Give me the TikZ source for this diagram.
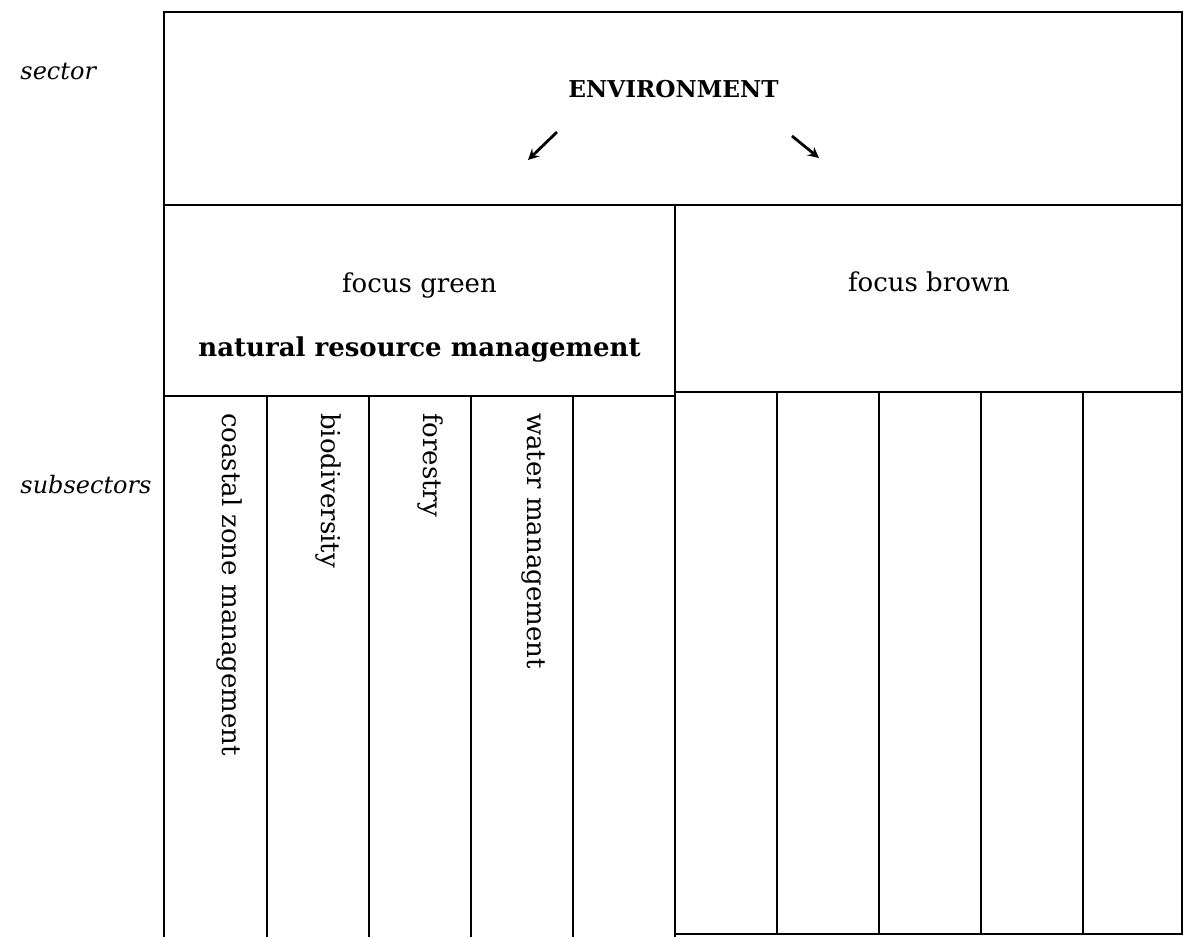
\documentclass[tikz,border=0pt]{standalone}
\usepackage{fontspec}
\setmainfont{DejaVu Serif}
\usepackage{tikz}
\usepackage{xcolor}

\begin{document}
\begin{tikzpicture}[font=\fontsize{13}{15}\selectfont]
        \useasboundingbox (0pt, 0pt) rectangle (592pt, -468.5pt);

        % Frame of the table
        \draw [line width = 1.2pt] (82pt, -468.5pt) -- (82pt, -6pt) -- (591pt, -6pt) -- (591pt, -467pt) -- (337.5pt, -467pt) -- (337.5pt, -468.5pt);
        \draw [line width = 1.2pt] (82pt, -102.5pt) -- (591pt, -102.5pt);
        \draw [line width = 1.2pt] (337.5pt, -102.5pt) -- (337.5pt, -467pt);
        \draw [line width = 1.2pt] (82pt, -198pt) -- (337.5pt, -198pt);
        \draw [line width = 1.2pt] (337.5pt, -196pt) -- (591pt, -196pt);

        % Columns of the subsectors
        \draw [line width = 1.2pt] (133.5pt, -198pt) -- (133.5pt, -468.5pt);
        \draw [line width = 1.2pt] (184.5pt, -198pt) -- (184.5pt, -468.5pt);
        \draw [line width = 1.2pt] (235.5pt, -198pt) -- (235.5pt, -468.5pt);
        \draw [line width = 1.2pt] (286.5pt, -198pt) -- (286.5pt, -468.5pt);
        \draw [line width = 1.2pt] (388.5pt, -196pt) -- (388.5pt, -467pt);
        \draw [line width = 1.2pt] (439.5pt, -196pt) -- (439.5pt, -467pt);
        \draw [line width = 1.2pt] (490.5pt, -196pt) -- (490.5pt, -467pt);
        \draw [line width = 1.2pt] (541.5pt, -196pt) -- (541.5pt, -467pt);

        % Nodes
        \node [anchor = west, font = \fontsize{12}{14}\selectfont] (sector) at (6.7pt, -36pt) {\textit{sector}};
        \node [anchor = west, font = \fontsize{12}{14}\selectfont] (subsectors) at (6.7pt, -242.5pt) {\textit{subsectors}};
        \node [font = \fontsize{11.6}{14}\selectfont] (env) at (336.75pt, -44.5pt) {\textbf{ENVIRONMENT}};
        \node (green) at (209.75pt, -143pt) {focus green};
        \node (nrm) at (209.75pt, -175pt) {\textbf{natural resource management}};
        \node (brown) at (464.5pt, -141pt) {focus brown};

        \node [rotate = -90, anchor = west] (coastal) at (114.5pt, -203pt) {coastal zone management};
        \node [rotate = -90, anchor = west] (biodiv) at (164pt, -203pt) {biodiversity};
        \node [rotate = -90, anchor = west] (forest) at (215pt, -203pt) {forestry};
        \node [rotate = -90, anchor = west] (water) at (266.5pt, -203pt) {water management};

        % Draw the links
        \coordinate (lefttail) at (278.5pt, -66pt);
        \coordinate (lefthead) at (264pt, -80pt);
        \coordinate (righttail) at (396pt, -68pt);
        \coordinate (righthead) at (409.5pt, -79pt);
        \draw [->, > = stealth, line width = 1.4pt] (lefttail) -- (lefthead);
        \draw [->, > = stealth, line width = 1.4pt] (righttail) -- (righthead);

    \end{tikzpicture}
\end{document}
